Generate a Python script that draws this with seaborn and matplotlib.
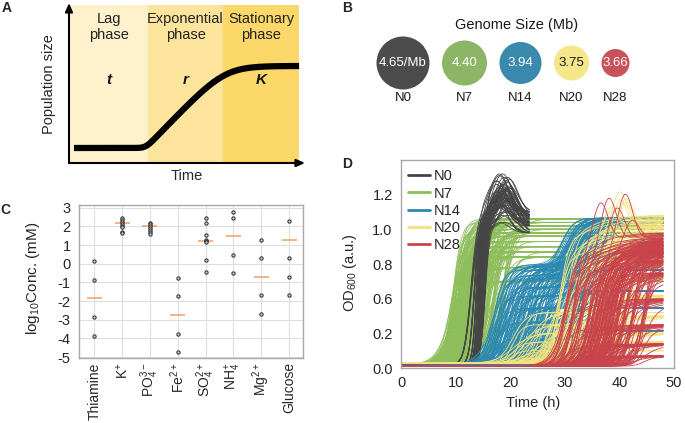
import numpy as np
import pandas as pd
import matplotlib
matplotlib.use("Agg")
import matplotlib.pyplot as plt
import seaborn as sns
from matplotlib.lines import Line2D

# ---------------- data ----------------
# Panel B
strains = ["N0", "N7", "N14", "N20", "N28"]
genome_size = [4.65, 4.40, 3.94, 3.75, 3.66]
genome_text = ["4.65/Mb", "4.40", "3.94", "3.75", "3.66"]

# Panel C
nutrients = ["Thiamine", "K+", "PO4", "Fe2+", "SO4", "NH4", "Mg2+", "Glucose"]
nutrient_ticklabels = ["Thiamine", "K$^{+}$", "PO$_{4}^{3-}$", "Fe$^{2+}$",
                       "SO$_{4}^{2+}$", "NH$_{4}^{+}$", "Mg$^{2+}$", "Glucose"]
thiamine = [0.15, -0.85, -2.85, -3.85]
potassium = [2.45, 2.35, 2.22, 2.12, 2.02, 1.95, 1.70, 1.65]
phosphate = [2.20, 2.12, 2.00, 1.92, 1.82, 1.70, 1.62]
iron = [-0.75, -1.75, -3.75, -4.75]
sulfate = [2.48, 2.20, 1.55, 1.25, 1.20, 1.15, 0.22, -0.45]
ammonium = [2.78, 2.48, 0.47, -0.50]
magnesium = [1.30, 0.30, -1.70, -2.70]
glucose = [2.30, 0.30, -0.70, -1.70]
reference_conc = [-1.85, 2.20, 2.00, -2.75, 1.20, 1.50, -0.70, 1.30]

# Panel D: growth-curve parameters (in the axis units as drawn)
n0_mid = [12.8, 13.4, 13.8, 14.1, 14.3, 14.5, 14.7, 14.9, 15.1, 15.4]
n0_rate = [1.6, 2.2, 2.8, 3.0, 3.2, 2.8, 3.0, 2.6, 2.8, 2.4]
n0_level = [1.10, 1.06, 1.02, 0.98, 1.08, 1.04]
n0_bump = [0.22, 0.12, 0.18, 0.20, 0.06, 0.15, 0.10, 0.21]
n0_bump_time = [18.0, 19.3, 18.6, 19.8, 17.5, 18.9, 19.5]

n7_mid = [9.5, 10.0, 10.5, 10.9, 11.3, 11.7, 12.1, 12.5, 12.9, 13.4, 13.9, 14.5, 15.2, 16.0, 17.0, 18.5]
n7_rate = [0.9, 1.3, 0.8, 1.1, 1.5, 1.0, 1.2, 0.7]
n7_level = [1.06, 1.04, 1.02, 1.00, 0.98, 0.96, 0.93, 0.90, 0.87, 0.84, 0.78, 0.70]

n14_mid1 = [17.0, 17.8, 18.5, 19.2, 20.0, 20.8, 21.6, 22.4, 23.2, 24.0, 25.0, 26.0, 27.0, 28.2, 30.0, 32.0]
n14_rate = [0.9, 0.7, 1.2, 0.8, 1.0, 0.6, 1.1]
n14_step1 = [0.58, 0.57, 0.55, 0.52, 0.50, 0.45, 0.40, 0.33, 0.25, 0.15, 0.08, 0.03]
n14_step2 = [0.27, 0.28, 0.28, 0.30, 0.25, 0.20, 0.15, 0.10, 0.08, 0.05, 0.04, 0.02]
n14_mid2 = [29.5, 31.0, 32.0, 33.0, 30.5, 34.0, 32.5, 35.5]

n20_early_mid = [20.5, 22.0, 23.5, 25.0, 26.5, 28.0]
n20_early_level = [0.52, 0.45, 0.40, 0.35, 0.30, 0.26]
n20_late_mid = [29.0, 30.5, 32.0, 33.5, 35.0, 36.0, 37.0, 38.0, 39.0, 40.5]
n20_late_level = [1.08, 1.05, 1.02, 0.98, 0.92, 0.84, 0.74, 0.62, 0.50, 0.40]
n20_rate = [0.8, 1.2, 0.6, 1.0, 1.4, 0.7]
n20_bump = [0, 0, 0, 0.12, 0.20, 0.18, 0.05, 0, 0, 0]

n28_mid = [30.0, 31.5, 33.0, 34.5, 35.3, 36.0, 36.6, 37.2, 37.8, 38.4, 39.0, 39.8, 41.0, 42.5, 44.5]
n28_rate = [0.8, 1.2, 1.0, 1.5, 0.9, 1.3]
n28_level = [0.98, 0.95, 0.93, 0.91, 0.89, 0.86, 0.82, 0.75, 0.60, 0.45, 0.34, 0.27]
n28_bump = [0, 0.25, 0.28, 0.22, 0, 0.30, 0, 0.15, 0, 0, 0, 0, 0, 0, 0]

baseline = {"N0": 0.215, "N7": 0.22, "N14": 0.215, "N20": 0.228, "N28": 0.21}

# ---------------- style ----------------
sns.set_style("white")
plt.rcParams['font.family'] = ['Liberation Sans', 'DejaVu Sans']
plt.rcParams['mathtext.fontset'] = 'custom'
plt.rcParams['mathtext.rm'] = 'Liberation Sans'
plt.rcParams['mathtext.it'] = 'Liberation Sans:italic'
plt.rcParams['mathtext.default'] = 'regular'
plt.rcParams['axes.unicode_minus'] = False

circle_colors = {"N0": "#4c4c4c", "N7": "#8db567", "N14": "#3b8aae", "N20": "#f5e68a", "N28": "#c9525a"}
line_colors = {"N0": "#454545", "N7": "#8ebe5c", "N14": "#2b88b0", "N20": "#f3e27c", "N28": "#c8434b"}
circle_radius_px = {"N0": 26.5, "N7": 22.5, "N14": 21.0, "N20": 17.5, "N28": 14.0}
draw_order = ["N7", "N0", "N14", "N20", "N28"]
frame_grey = "#a8a8a8"

W, H = 685, 423
fig = plt.figure(figsize=(W / 100, H / 100), dpi=100)


def px_axes(l, t, r, b):
    return fig.add_axes([l / W, 1 - b / H, (r - l) / W, (b - t) / H])


def ftext(x, y, s, **kw):
    fig.text(x / W, 1 - y / H, s, **kw)


# ---------------- Panel A ----------------
axA = px_axes(69, 3, 305, 163)
unit = 76.7
axA.set_xlim(0, (305 - 69) / unit)
axA.set_ylim(0, 160 / 158)
axA.axis("off")
bounds = [0, 1.03, 2.01, 3.0]
phase_colors = ["#fef1cc", "#fde49c", "#fcd86a"]
phase_text = ["Lag\nphase", "Exponential\nphase", "Stationary\nphase"]
phase_param = ["t", "r", "K"]
for k in range(3):
    axA.fill_between([bounds[k], bounds[k + 1]], 0, 1.0, color=phase_colors[k], lw=0, zorder=0)
    cx = (bounds[k] + bounds[k + 1]) / 2
    axA.text(cx, 0.86, phase_text[k], ha="center", va="center", fontsize=10.5,
             linespacing=1.15, color="#222222")
    axA.text(cx, 0.525, phase_param[k], ha="center", va="center", fontsize=11,
             fontweight="bold", fontstyle="italic", color="#111111")

u = np.linspace(0.065, 3.0, 500)
low, high, u0, u1 = 0.095, 0.614, 1.0, 2.03


def softplus(x):
    return np.logaddexp(0, x)


k1, k2 = 30.0, 6.0
frac = (softplus(k1 * (u - u0)) / k1 - softplus(k2 * (u - u1)) / k2) / (u1 - u0)
axA.plot(u, low + (high - low) * frac, color="black", lw=4.5, solid_capstyle="butt", zorder=3)
arrow_kw = dict(arrowstyle="-|>,head_width=0.22,head_length=0.5", lw=1.5, color="black",
                shrinkA=0, shrinkB=0)
axA.annotate("", xy=(0, 160 / 158), xytext=(0, 0), arrowprops=arrow_kw, annotation_clip=False)
axA.annotate("", xy=((305 - 69) / unit, 0), xytext=(0, 0), arrowprops=arrow_kw, annotation_clip=False)
ftext(49, 84, "Population size", rotation=90, ha="center", va="center", fontsize=10.5)
ftext(187, 176, "Time", ha="center", va="center", fontsize=10.5)

# ---------------- Panel B ----------------
axB = px_axes(340, 0, 685, 140)
gap = 12.5
xs = [403.0]
for a, b in zip(strains[:-1], strains[1:]):
    xs.append(xs[-1] + circle_radius_px[a] + gap + circle_radius_px[b])
dfB = pd.DataFrame({"strain": strains, "genome": genome_size, "x": xs, "y": [63] * 5})
sizes = {s: (2 * circle_radius_px[s] * 0.72) ** 2 for s in strains}
sns.scatterplot(data=dfB, x="x", y="y", hue="strain", palette=circle_colors, size="strain",
                sizes=sizes, linewidth=0, legend=False, ax=axB)
axB.set_xlim(340, 685)
axB.set_ylim(140, 0)
axB.axis("off")
for s, x, txt in zip(strains, xs, genome_text):
    axB.text(x, 63, txt, ha="center", va="center", fontsize=9.5,
             color="#1a1a1a" if s == "N20" else "white")
    axB.text(x, 98, s, ha="center", va="center", fontsize=9.5, color="#1a1a1a")
axB.text(517, 25, "Genome Size (Mb)", ha="center", va="center", fontsize=10.5, color="#1a1a1a")

# ---------------- Panel C ----------------
axC = px_axes(79, 205, 303, 358)
values_c = [thiamine, potassium, phosphate, iron, sulfate, ammonium, magnesium, glucose]
dfC = pd.DataFrame([(n, v) for n, vals in zip(nutrients, values_c) for v in vals],
                   columns=["nutrient", "value"])
sns.stripplot(data=dfC, x="nutrient", y="value", order=nutrients, jitter=False,
              color="#c8c8c8", edgecolor="#2a2a2a", linewidth=0.7, size=2.4, ax=axC, zorder=3)
pos = np.arange(len(nutrients))
axC.hlines(reference_conc, pos - 0.27, pos + 0.27, color="#f0a068", lw=1.1, zorder=2)
axC.set_xlim(-0.55, 7.5)
axC.set_ylim(-5.05, 3.15)
axC.set_yticks(range(-5, 4))
axC.set_xticks(pos)
axC.set_xticklabels(nutrient_ticklabels, rotation=90, fontsize=10)
axC.tick_params(axis="y", labelsize=10.5, length=3, color=frame_grey, pad=3)
axC.tick_params(axis="x", length=2, color=frame_grey, pad=1)
axC.grid(True, color="#dedede", lw=0.8)
axC.set_axisbelow(True)
axC.set_xlabel("")
axC.set_ylabel("")
for sp in axC.spines.values():
    sp.set_color(frame_grey)
    sp.set_linewidth(1.0)
ftext(33, 278, "log$_{10}$Conc. (mM)", rotation=90, ha="center", va="center", fontsize=11)

# ---------------- Panel D ----------------
t_all = np.arange(0, 48.01, 0.25)


def sig(x):
    return 1.0 / (1.0 + np.exp(-x))


frames = []


def add_curve(group, t, y):
    frames.append(pd.DataFrame({"strain": group, "curve": f"{group}_{len(frames)}", "time": t, "od": y}))


t0 = t_all[t_all <= 23.5]
b = baseline["N0"]
for i, m in enumerate(n0_mid):
    for j, L in enumerate(n0_level):
        bump = n0_bump[(i + j) % len(n0_bump)]
        tp = n0_bump_time[(2 * i + j) % len(n0_bump_time)]
        y = b + (L - b) * sig(n0_rate[i] * (t0 - m)) + bump * np.exp(-((t0 - tp) / 2.4) ** 2)
        add_curve("N0", t0, y)

b = baseline["N7"]
for i, m in enumerate(n7_mid):
    for j, L in enumerate(n7_level):
        r = n7_rate[(i + j) % len(n7_rate)]
        add_curve("N7", t_all, b + (L - b) * sig(r * (t_all - m)))

b = baseline["N14"]
for i, m1 in enumerate(n14_mid1):
    for j, (s1, s2) in enumerate(zip(n14_step1, n14_step2)):
        r = n14_rate[(i + j) % len(n14_rate)]
        m2 = max(n14_mid2[(i + 2 * j) % len(n14_mid2)], m1 + 5)
        y = b + s1 * sig(r * (t_all - m1)) + s2 * sig(0.9 * (t_all - m2))
        add_curve("N14", t_all, y)

b = baseline["N20"]
for i, m in enumerate(n20_early_mid):
    for j, L in enumerate(n20_early_level):
        r = n20_rate[(i + j) % len(n20_rate)]
        add_curve("N20", t_all, b + (L - b) * sig(r * (t_all - m)))
for i, m in enumerate(n20_late_mid):
    for j, L in enumerate(n20_late_level):
        r = n20_rate[(i + j) % len(n20_rate)]
        y = b + (L - b) * (0.85 * sig(r * (t_all - m)) + 0.15 * sig(0.35 * (t_all - m - 5)))
        if j < 2 and n20_bump[i] > 0:
            y = y + n20_bump[i] * np.exp(-((t_all - (m + 5)) / 1.8) ** 2)
        add_curve("N20", t_all, y)

b = baseline["N28"]
for i, m in enumerate(n28_mid):
    for j, L in enumerate(n28_level):
        r = n28_rate[(i + j) % len(n28_rate)]
        y = b + (L - b) * (0.8 * sig(r * (t_all - m)) + 0.2 * sig(0.35 * (t_all - m - 5)))
        if j == 0 and n28_bump[i] > 0:
            y = y + n28_bump[i] * np.exp(-((t_all - (m + 5)) / 2.0) ** 2)
        add_curve("N28", t_all, y)

dfD = pd.concat(frames, ignore_index=True)

axD = px_axes(401, 160, 674, 368)
sns.lineplot(data=dfD, x="time", y="od", hue="strain", hue_order=draw_order, palette=line_colors,
             units="curve", estimator=None, lw=0.6, legend=False, sort=False, ax=axD)
axD.set_xlim(0, 50)
axD.set_ylim(0.2, 1.40)
axD.set_xticks([0, 10, 20, 30, 40, 50])
axD.set_yticks([0.2, 0.4, 0.6, 0.8, 1.0, 1.2])
axD.set_yticklabels(["0.0", "0.2", "0.6", "0.8", "1.0", "1.2"])
axD.tick_params(labelsize=10.5, length=3, color=frame_grey, pad=3)
axD.set_xlabel("")
axD.set_ylabel("")
for sp in axD.spines.values():
    sp.set_color(frame_grey)
    sp.set_linewidth(1.0)
handles = [Line2D([0], [0], color=line_colors[s], lw=2) for s in strains]
axD.legend(handles, strains, loc="upper left", bbox_to_anchor=(0.026, 0.955), frameon=False,
           fontsize=10.5, handlelength=1.5, handletextpad=0.25, labelspacing=0.22,
           borderpad=0, borderaxespad=0)
ftext(533, 403, "Time (h)", ha="center", va="center", fontsize=10.5)
ftext(350, 273, "OD$_{600}$ (a.u.)", rotation=90, ha="center", va="center", fontsize=10.5)

# ---------------- panel letters ----------------
for letter, (x, y) in zip("ABCD", [(7, 8), (347, 8), (5, 210), (347, 164)]):
    ftext(x, y, letter, ha="center", va="center", fontsize=10, fontweight="bold")

fig.savefig("out.png", dpi=100)
